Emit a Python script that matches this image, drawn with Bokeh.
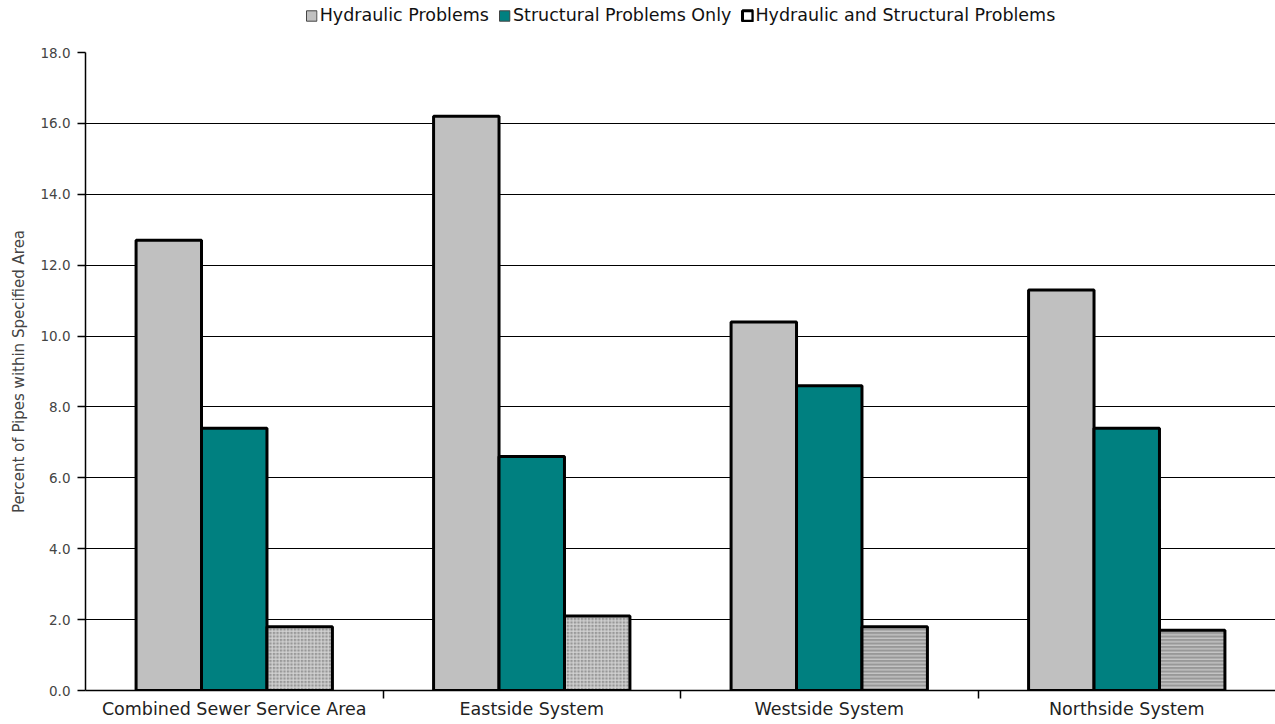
import numpy as np
from bokeh.plotting import figure
from bokeh.layouts import column
from bokeh.models import (ColumnDataSource, Range1d, FixedTicker, Legend, LegendItem)
from bokeh.embed import file_html
from bokeh.resources import INLINE

categories = ["Combined Sewer Service Area", "Eastside System", "Westside System", "Northside System"]
hydraulic = [12.7, 16.2, 10.4, 11.3]
structural = [7.4, 6.6, 8.6, 7.4]
hyd_struct = [1.8, 2.1, 1.8, 1.7]
hs_patterns = ["+", "+", "-", "-"]
series_names = ["Hydraulic Problems", "Structural Problems Only", "Hydraulic and Structural Problems"]
y_ticks = [0, 2, 4, 6, 8, 10, 12, 14, 16, 18]

FONT = "DejaVu Sans"
centers = np.arange(len(categories)) + 0.5
bw = 0.22

W = 1275
LH = 30          # legend strip height
H = 694          # main figure height
BT, BB, BL = 22, 34, 85

# ---------------- legend strip ----------------
pl = figure(width=W, height=LH, output_backend="svg", toolbar_location=None,
            x_range=Range1d(0, 1), y_range=Range1d(0, 1))
pl.axis.visible = False
pl.grid.visible = False
pl.outline_line_color = None
pl.min_border_left = BL
pl.min_border_right = pl.min_border_top = pl.min_border_bottom = 0
nan = [np.nan]
l1 = pl.vbar(x=nan, top=nan, width=0.1, fill_color="#c0c0c0", line_color="#444444", line_width=1)
l2 = pl.vbar(x=nan, top=nan, width=0.1, fill_color="#008080", line_color="#444444", line_width=1)
l3 = pl.vbar(x=nan, top=nan, width=0.1, fill_color="white", line_color="black", line_width=3)
legend = Legend(items=[LegendItem(label=series_names[0], renderers=[l1]),
                       LegendItem(label=series_names[1], renderers=[l2]),
                       LegendItem(label=series_names[2], renderers=[l3])],
                orientation="horizontal", location="center")
legend.label_text_font = FONT
legend.label_text_font_size = "17.5px"
legend.label_text_color = "#111111"
legend.glyph_width = 13
legend.glyph_height = 13
legend.label_standoff = 2
legend.spacing = 9
legend.padding = 0
legend.margin = 0
legend.border_line_color = None
legend.background_fill_alpha = 0
pl.add_layout(legend, "center")

# ---------------- main chart ----------------
p = figure(width=W, height=H, output_backend="svg", toolbar_location=None,
           x_range=Range1d(0, len(categories)), y_range=Range1d(0, 18))
p.min_border_left = BL
p.min_border_right = 0
p.min_border_top = BT
p.min_border_bottom = BB
p.outline_line_color = None
p.background_fill_color = "white"

src_h = ColumnDataSource(dict(x=centers - bw, top=hydraulic))
src_s = ColumnDataSource(dict(x=centers, top=structural))
src_hs = ColumnDataSource(dict(x=centers + bw, top=hyd_struct, pat=hs_patterns))

p.vbar(x="x", top="top", width=bw, bottom=0, source=src_h,
       fill_color="#c0c0c0", line_color="black", line_width=3)
p.vbar(x="x", top="top", width=bw, bottom=0, source=src_s,
       fill_color="#008080", line_color="black", line_width=3)
p.vbar(x="x", top="top", width=bw, bottom=0, source=src_hs,
       fill_color="#989898", hatch_pattern="pat", hatch_color="#d8d8d8",
       hatch_scale=3.5, hatch_weight=1, line_color="black", line_width=3)

xa = p.xaxis[0]
xa.ticker = FixedTicker(ticks=list(centers), minor_ticks=[1, 2, 3])
xa.major_label_overrides = {float(c): n for c, n in zip(centers, categories)}
xa.major_tick_line_color = None
xa.major_tick_in = 0
xa.major_tick_out = 0
xa.minor_tick_line_color = "black"
xa.minor_tick_line_width = 1.5
xa.minor_tick_in = 0
xa.minor_tick_out = 8
xa.axis_line_color = "black"
xa.axis_line_width = 1.5
xa.major_label_text_font = FONT
xa.major_label_text_font_size = "17.5px"
xa.major_label_text_color = "#222222"
xa.major_label_standoff = 0

ya = p.yaxis[0]
ya.ticker = FixedTicker(ticks=y_ticks)
ya.major_label_overrides = {t: f"{t:.1f}" for t in y_ticks}
ya.major_tick_in = 0
ya.major_tick_out = 8
ya.major_tick_line_color = "black"
ya.major_tick_line_width = 1.5
ya.minor_tick_line_color = None
ya.axis_line_color = "black"
ya.axis_line_width = 1.5
ya.major_label_text_font = FONT
ya.major_label_text_font_size = "13.5px"
ya.major_label_text_color = "#444444"
ya.major_label_standoff = 7
ya.axis_label = "Percent of Pipes within Specified Area"
ya.axis_label_text_font = FONT
ya.axis_label_text_font_size = "15px"
ya.axis_label_text_font_style = "normal"
ya.axis_label_text_color = "#444444"
ya.axis_label_standoff = 9

p.xgrid.grid_line_color = None
p.ygrid.ticker = FixedTicker(ticks=y_ticks)
p.ygrid.grid_line_color = "black"
p.ygrid.grid_line_width = 1.2

layout = column(pl, p, spacing=0)
open("out.html", "w").write(file_html(layout, INLINE))
